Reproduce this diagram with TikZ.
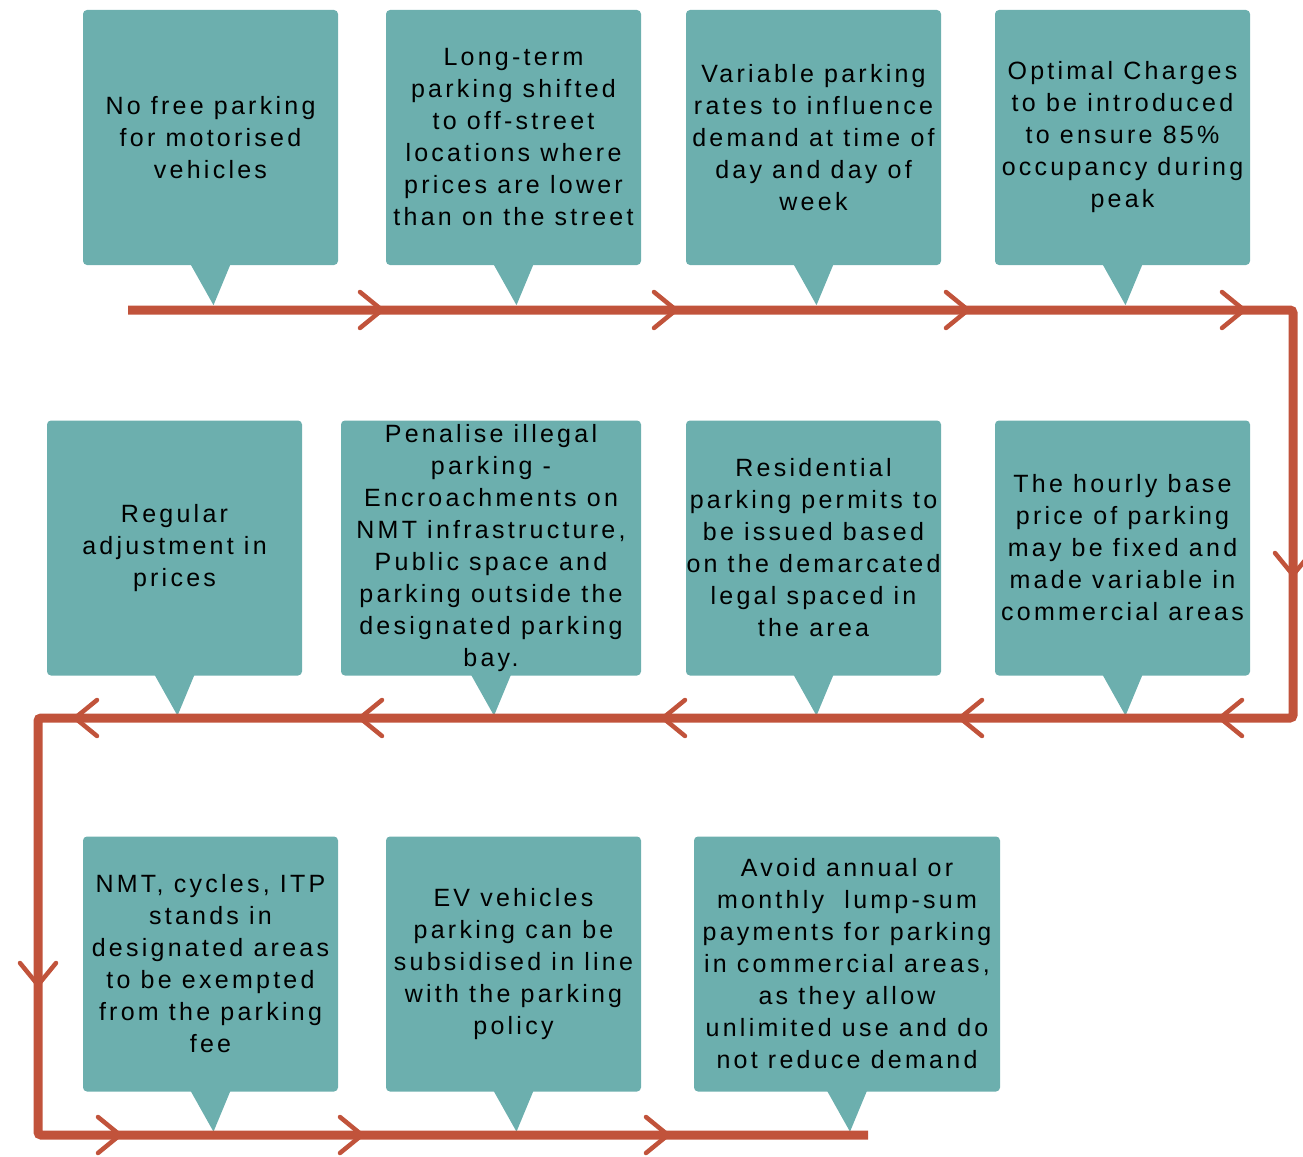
\documentclass[tikz,border=0pt]{standalone}
\usepackage{fontspec}
\setmainfont{Liberation Sans}[LetterSpace=13]
\usepackage{tikz}
\usetikzlibrary{calc,positioning}
\definecolor{boxteal}{HTML}{6CAFAE}
\definecolor{flowred}{HTML}{C1533B}

\tikzset{
  box/.style={fill=boxteal, rounded corners=4pt, minimum width=255pt, minimum height=255pt,
    align=center, inner sep=0pt, font=\fontsize{25}{32}\selectfont},
  flow/.style={flowred, line width=9pt, rounded corners=3pt},
  chevline/.style={flowred, line width=4.5pt, line cap=round},
  chev/.pic={\draw[chevline] (-22,-18) -- (0,0) -- (-22,18);}
}

\begin{document}
\begin{tikzpicture}[x=1pt,y=-1pt]
    \useasboundingbox (0,0) rectangle (1303,1156);

    % Row 1
    \node[box] (b1) at (210.5,137.5) {No free parking\\for motorised\\vehicles};
    \node[box] (b2) at (513.5,137.5) {Long-term\\parking shifted\\to off-street\\locations where\\prices are lower\\than on the street};
    \node[box] (b3) at (813.5,137.5) {Variable parking\\rates to influence\\demand at time of\\day and day of\\week};
    \node[box] (b4) at (1122.5,137.5) {Optimal Charges\\to be introduced\\to ensure 85\%\\occupancy during\\peak};

    % Row 2
    \node[box] (b5) at (174.5,548) {Regular\\adjustment in\\prices};
    \node[box, minimum width=300pt] (b6) at (491,548) {Penalise illegal\\parking -\\Encroachments on\\NMT infrastructure,\\Public space and\\parking outside the\\designated parking\\bay.};
    \node[box] (b7) at (813.5,548) {Residential\\parking permits to\\be issued based\\on the demarcated\\legal spaced in\\the area};
    \node[box] (b8) at (1122.5,548) {The hourly base\\price of parking\\may be fixed and\\made variable in\\commercial areas};

    % Row 3
    \node[box] (b9) at (210.5,964) {NMT, cycles, ITP\\stands in\\designated areas\\to be exempted\\from the parking\\fee};
    \node[box] (b10) at (513.5,964) {EV vehicles\\parking can be\\subsidised in line\\with the parking\\policy};
    \node[box, minimum width=306pt] (b11) at (847,964) {Avoid annual or\\monthly\ \ lump-sum\\payments for parking\\in commercial areas,\\as they allow\\unlimited use and do\\not reduce demand};

    % Pointers
    \foreach \n in {b1,b2,b3,b4,b5,b6,b7,b8,b9,b10,b11} {
        \fill[boxteal] ([xshift=-20pt,yshift=1pt]\n.south) -- ([xshift=20pt,yshift=1pt]\n.south)
            -- ([xshift=3pt,yshift=-40pt]\n.south) -- cycle;
    }

    % Flow line
    \coordinate (start) at (128,310);
    \coordinate (ne) at (1293,310);
    \coordinate (se) at (1293,718);
    \coordinate (sw) at (38,718);
    \coordinate (nw) at (38,1135);
    \coordinate (stop) at (868,1135);
    \draw[flow] (start) -- (ne) -- (se) -- (sw) -- (nw) -- (stop);

    % Chevrons
    \foreach \x in {382,676,968,1244}
        \pic at (\x,310) {chev};
    \foreach \x in {1220,960,663,360,75}
        \pic[rotate=180] at (\x,718) {chev};
    \foreach \x in {120,362,668}
        \pic at (\x,1135) {chev};
    \pic[rotate=-90] at (1293,575) {chev};
    \pic[rotate=-90] at (38,985) {chev};
\end{tikzpicture}
\end{document}
